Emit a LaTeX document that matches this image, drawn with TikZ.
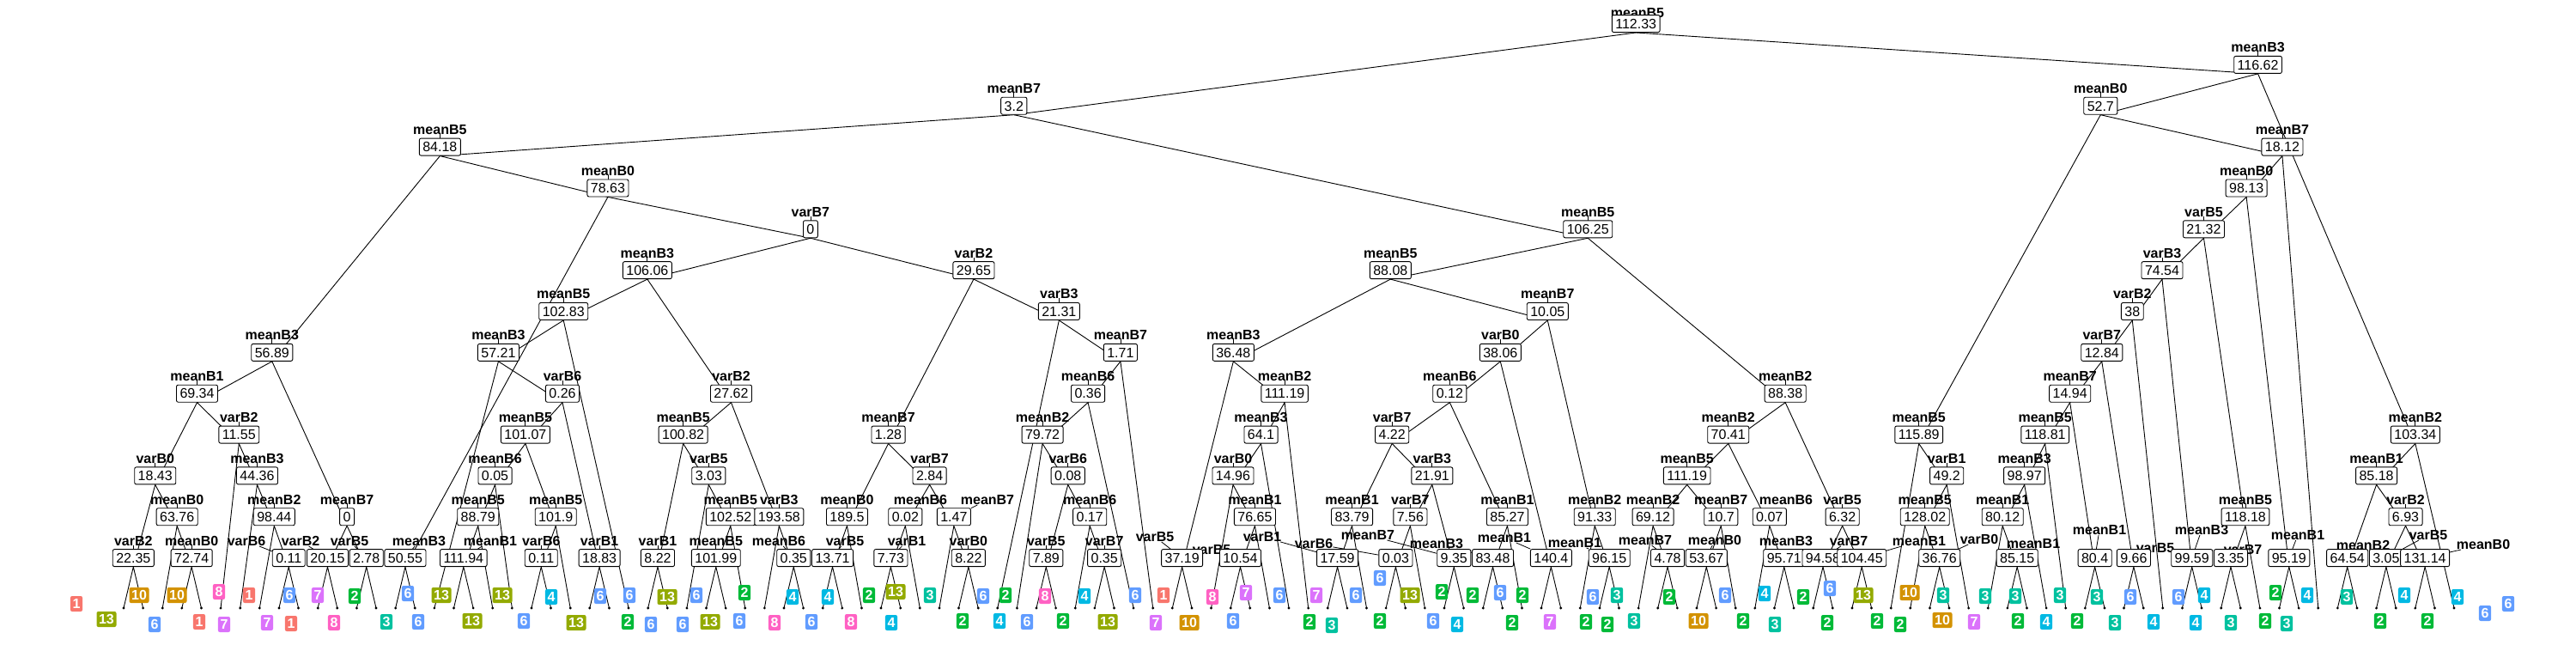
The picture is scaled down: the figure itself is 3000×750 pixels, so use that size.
\documentclass[tikz,border=0pt]{standalone}
\usepackage{fontspec}
\setmainfont{Liberation Sans}
\usetikzlibrary{calc}
\definecolor{col1}{HTML}{F8766D}
\definecolor{col10}{HTML}{D39200}
\definecolor{col13}{HTML}{93AA00}
\definecolor{col2}{HTML}{00BA38}
\definecolor{col3}{HTML}{00C19F}
\definecolor{col4}{HTML}{00B9E3}
\definecolor{col6}{HTML}{619CFF}
\definecolor{col7}{HTML}{DB72FB}
\definecolor{col8}{HTML}{FF61C3}
\pgfdeclarelayer{labels}
\pgfdeclarelayer{edges}
\pgfdeclarelayer{top}
\pgfsetlayers{labels,edges,main,top}
\tikzset{
  edge/.style={line width=0.9pt, black},
  tick/.style={line width=0.8pt, black},
  vbox/.style={draw, line width=0.9pt, fill=white, rounded corners=2pt,
    font=\fontsize{16}{16}\selectfont, inner xsep=4pt, inner ysep=4.25pt,
    text height=11.5pt, text depth=0pt},
  vname/.style={font=\fontsize{16}{16}\selectfont\bfseries, inner sep=0pt,
    text height=11.5pt, text depth=0pt},
  leafl/.style={rounded corners=2pt, text=white,
    font=\fontsize{16}{16}\selectfont\bfseries, inner xsep=2.6pt, inner ysep=3.25pt,
    text height=11.5pt, text depth=0pt},
  dot/.style={fill=black}
}
% [label centre]{id}{child A}{child B}{level}{variable}{value}
\NewDocumentCommand\tn{o m m m m m m}{%
  \path let \p1=(#3), \p2=(#4) in coordinate (#2) at ({0.5*(\x1+\x2)},{38+47.85*#5});
  \begin{pgfonlayer}{edges}\draw[edge] (#3) -- (#2) -- (#4);\end{pgfonlayer}
  \node[vbox, anchor=south] (#2-bx) at (#2) {#7};
  \begin{pgfonlayer}{labels}
  \IfNoValueTF{#1}{%
    \draw[tick] ([yshift=20pt]#2) -- ([yshift=25.5pt]#2);
    \node[vname, anchor=base] (#2-lb) at ([yshift=25pt]#2) {#6};
  }{%
    \node[vname, anchor=center] (#2-lb) at (#1) {#6};
  }
  \end{pgfonlayer}
}
\newcommand\lead[1]{\begin{pgfonlayer}{labels}\draw[tick] (#1-lb) -- (#1-bx);\end{pgfonlayer}}
\begin{document}
\begin{tikzpicture}[x=1pt,y=-1pt]
\useasboundingbox (0,0) rectangle (3000,750);
\foreach \i in {0,...,120} {\coordinate (l\i) at ({144+22.617*\i},708);}
% level 13
\tn{a22}{l0}{l1}{13}{varB2}{22.35}
\tn{a72}{l3}{l4}{13}{meanB0}{72.74}
\tn[287,630]{a011}{l8}{l9}{13}{varB6}{0.11}\lead{a011}
\tn[350,630]{a2015}{l10}{l11}{13}{varB2}{20.15}\lead{a2015}
\tn[407,630]{a278}{l12}{l13}{13}{varB5}{2.78}\lead{a278}
\tn[488,630]{a5055}{l14}{l15}{13}{meanB3}{50.55}\lead{a5055}
\tn[571,630]{a11194}{l17}{l18}{13}{meanB1}{111.94}\lead{a11194}
\tn{a011b}{l21}{l22}{13}{varB6}{0.11}
\tn{a1883}{l24}{l25}{13}{varB1}{18.83}
\tn{a822}{l27}{l28}{13}{varB1}{8.22}
\tn{a10199}{l30}{l31}{13}{meanB5}{101.99}
\tn[907,630]{a035}{l34}{l35}{13}{meanB6}{0.35}\lead{a035}
\tn[984,630]{a1371}{l36}{l37}{13}{varB5}{13.71}\lead{a1371}
\tn[1056,630]{a773}{l39}{l40}{13}{varB1}{7.73}\lead{a773}
\tn{a822b}{l43}{l44}{13}{varB0}{8.22}
\tn{a789}{l47}{l48}{13}{varB5}{7.89}
\tn{a035b}{l50}{l51}{13}{varB7}{0.35}
\tn[1345,625]{a3719}{l54}{l55}{13}{varB5}{37.19}\lead{a3719}
\tn[1411,640]{a1054}{l57}{l58}{13}{varB5}{10.54}
\tn[1470,625]{a1759}{l62}{l63}{13}{varB1}{17.59}\lead{a1759}
\tn[1530,633]{a003}{l65}{l66}{13}{varB6}{0.03}\lead{a003}
\tn[1593,623]{a935}{l68}{l69}{13}{meanB7}{9.35}\lead{a935}
\tn[1673,633]{a8348}{l70}{l71}{13}{meanB3}{83.48}\lead{a8348}
\tn[1752,626]{a1404}{l73}{l74}{13}{meanB1}{140.4}\lead{a1404}
\tn[1834,632]{a9615}{l76}{l77}{13}{meanB1}{96.15}\lead{a9615}
\tn[1916,629]{a478}{l79}{l80}{13}{meanB7}{4.78}\lead{a478}
\tn[1997,629]{a5367}{l81}{l82}{13}{meanB0}{53.67}\lead{a5367}
\tn[2080,630]{a9571}{l85}{l86}{13}{meanB3}{95.71}
\tn[2153,630]{a9458}{l87}{l88}{13}{varB7}{94.58}\lead{a9458}
\tn[2235,630]{a10445}{l89}{l90}{13}{meanB1}{104.45}\lead{a10445}
\tn[2305,628]{a3676}{l93}{l94}{13}{varB0}{36.76}\lead{a3676}
\tn[2368,633]{a8515}{l97}{l98}{13}{meanB1}{85.15}\lead{a8515}
\tn[2445,617]{a804}{l101}{l102}{13}{meanB1}{80.4}\lead{a804}
\tn[2510,638]{a966}{l103}{l104}{13}{varB5}{9.66}\lead{a966}
\tn[2564,617]{a9959}{l106}{l107}{13}{meanB3}{99.59}\lead{a9959}
\tn[2612,640]{a335}{l108}{l109}{13}{varB7}{3.35}
\tn[2676,623]{a9519}{l111}{l112}{13}{meanB1}{95.19}\lead{a9519}
\tn[2752,635]{a6454}{l114}{l115}{13}{meanB2}{64.54}
\tn[2828,623]{a305}{l116}{l117}{13}{varB5}{3.05}\lead{a305}
\tn[2892,634]{a13114}{l118}{l119}{13}{meanB0}{131.14}\lead{a13114}
% level 12
\tn{b6376}{l2}{a72}{12}{meanB0}{63.76}
\tn{b9844}{l7}{a011}{12}{meanB2}{98.44}
\tn{b0}{a2015}{a278}{12}{meanB7}{0}
\tn{b8879}{a11194}{l19}{12}{meanB5}{88.79}
\tn{b1019}{a011b}{l23}{12}{meanB5}{101.9}
\tn{b10252}{a10199}{l32}{12}{meanB5}{102.52}
\tn{b19358}{l33}{a035}{12}{varB3}{193.58}
\tn{b1895}{a1371}{l38}{12}{meanB0}{189.5}
\tn[1072,582]{b002}{a773}{l41}{12}{meanB6}{0.02}
\tn[1150,582]{b147}{l42}{a822b}{12}{meanB7}{1.47}\lead{b147}
\tn{b017}{l49}{a035b}{12}{meanB6}{0.17}
\tn{b7665}{a1054}{l59}{12}{meanB1}{76.65}
\tn{b8379}{a1759}{l64}{12}{meanB1}{83.79}
\tn{b756}{a003}{l67}{12}{varB7}{7.56}
\tn{b8527}{a8348}{l72}{12}{meanB1}{85.27}
\tn{b9133}{l75}{a9615}{12}{meanB2}{91.33}
\tn{b6912}{l78}{a478}{12}{meanB2}{69.12}
\tn{b107}{a5367}{l83}{12}{meanB7}{10.7}
\tn[2080,582]{b007}{l84}{a9571}{12}{meanB6}{0.07}
\tn{b632}{a9458}{a10445}{12}{varB5}{6.32}
\tn{b12802}{l92}{a3676}{12}{meanB5}{128.02}
\tn{b8012}{l96}{a8515}{12}{meanB1}{80.12}
\tn{b11818}{a335}{l110}{12}{meanB5}{118.18}
\tn{b693}{a305}{a13114}{12}{varB2}{6.93}
% level 11
\tn{c1843}{a22}{b6376}{11}{varB0}{18.43}
\tn{c4436}{l6}{b9844}{11}{meanB3}{44.36}
\tn{c005}{b8879}{l20}{11}{meanB6}{0.05}
\tn{c303}{l29}{b10252}{11}{varB5}{3.03}
\tn{c284}{b002}{b147}{11}{varB7}{2.84}
\tn{c008}{a789}{b017}{11}{varB6}{0.08}
\tn{c1496}{l56}{b7665}{11}{varB0}{14.96}
\tn{c2191}{b756}{a935}{11}{varB3}{21.91}
\tn{c11119}{b6912}{b107}{11}{meanB5}{111.19}
\tn{c492}{b12802}{l95}{11}{varB1}{49.2}
\tn{c9897}{b8012}{l99}{11}{meanB3}{98.97}
\tn{c8518}{a6454}{b693}{11}{meanB1}{85.18}
% level 10
\tn{d1155}{l5}{c4436}{10}{varB2}{11.55}
\tn{d10107}{c005}{b1019}{10}{meanB5}{101.07}
\tn{d10082}{a822}{c303}{10}{meanB5}{100.82}
\tn{d128}{b1895}{c284}{10}{meanB7}{1.28}
\tn{d7972}{l46}{c008}{10}{meanB2}{79.72}
\tn{d641}{c1496}{l60}{10}{meanB3}{64.1}
\tn{d422}{b8379}{c2191}{10}{varB7}{4.22}
\tn{d7041}{c11119}{b007}{10}{meanB2}{70.41}
\tn{d11589}{l91}{c492}{10}{meanB5}{115.89}
\tn{d11881}{c9897}{l100}{10}{meanB5}{118.81}
\tn{d10334}{c8518}{l120}{10}{meanB2}{103.34}
% level 9
\tn{e6934}{c1843}{d1155}{9}{meanB1}{69.34}
\tn{e026}{d10107}{a1883}{9}{varB6}{0.26}
\tn{e2762}{d10082}{b19358}{9}{varB2}{27.62}
\tn{e036}{d7972}{l52}{9}{meanB6}{0.36}
\tn{e11119}{d641}{l61}{9}{meanB2}{111.19}
\tn{e012}{d422}{b8527}{9}{meanB6}{0.12}
\tn{e8838}{d7041}{b632}{9}{meanB2}{88.38}
\tn{e1494}{d11881}{a804}{9}{meanB7}{14.94}
% level 8
\tn{f5689}{e6934}{b0}{8}{meanB3}{56.89}
\tn{f5721}{l16}{e026}{8}{meanB3}{57.21}
\tn{f171}{e036}{l53}{8}{meanB7}{1.71}
\tn{f3648}{a3719}{e11119}{8}{meanB3}{36.48}
\tn{f3806}{e012}{a1404}{8}{varB0}{38.06}
\tn{f1284}{e1494}{a966}{8}{varB7}{12.84}
% level 7
\tn{g10283}{f5721}{l26}{7}{meanB5}{102.83}
\tn{g2131}{l45}{f171}{7}{varB3}{21.31}
\tn{g1005}{f3806}{b9133}{7}{meanB7}{10.05}
\tn{g38}{f1284}{l105}{7}{varB2}{38}
% level 6
\tn{h10606}{g10283}{e2762}{6}{meanB3}{106.06}
\tn{h2965}{d128}{g2131}{6}{varB2}{29.65}
\tn{h8808}{f3648}{g1005}{6}{meanB5}{88.08}
\tn{h7454}{g38}{a9959}{6}{varB3}{74.54}
% level 5
\tn{i0}{h10606}{h2965}{5}{varB7}{0}
\tn{i10625}{h8808}{e8838}{5}{meanB5}{106.25}
\tn{i2132}{h7454}{b11818}{5}{varB5}{21.32}
% level 4
\tn{j7863}{a5055}{i0}{4}{meanB0}{78.63}
\tn{j9813}{i2132}{a9519}{4}{meanB0}{98.13}
% level 3
\tn{k8418}{f5689}{j7863}{3}{meanB5}{84.18}
\tn{k1812}{j9813}{l113}{3}{meanB7}{18.12}
% level 2
\tn{m32}{k8418}{i10625}{2}{meanB7}{3.2}
\tn{m527}{d11589}{k1812}{2}{meanB0}{52.7}
% level 1
\tn{n11662}{m527}{d10334}{1}{meanB3}{116.62}
% level 0
\tn[1907,15]{r}{m32}{n11662}{0}{meanB5}{112.33}
% leaf dots
\foreach \i in {0,...,120} {\fill[dot] (l\i) circle (1.6pt);}
% leaf class labels
\begin{pgfonlayer}{top}
\foreach \x/\y/\c [count=\k] in {
89/703/1,124/721/13,162/693/10,180/727/6,206/693/10,232/724/1,255/689/8,261/727/7,290/693/1,
311/725/7,337/693/6,339/726/1,370/693/7,389/725/8,413/694/2,450/724/3,475/691/6,487/724/6,514/693/13,550/723/13,585/693/13,
610/723/6,642/695/4,671/725/13,699/694/6,733/693/6,731/724/2,758/727/6,777/695/13,811/693/6,795/727/6,827/724/13,867/690/2,861/723/6,902/725/8,
923/695/4,945/724/6,964/695/4,991/724/8,1012/693/2,1043/689/13,1038/725/4,1083/693/3,1121/723/2,1145/694/6,1171/693/2,1164/723/4,1196/724/6,
1217/694/8,1238/723/2,1263/694/4,1290/724/13,1322/693/6,1355/693/1,1346/725/7,1385/725/10,1412/695/8,1451/690/7,1436/723/6,1490/693/6,
1533/693/7,1579/693/6,1607/673/6,1642/693/13,1679/689/2,1715/693/2,1747/690/6,1773/693/2,1525/724/2,1551/728/3,1607/723/2,1669/723/6,1697/727/4,1761/725/2,1805/724/7,
1855/695/6,1883/693/3,1847/724/2,1872/727/2,1903/723/3,1944/695/2,1978/723/10,2009/693/6,2030/723/2,2055/691/4,2067/727/3,2100/695/2,
2131/685/6,2170/693/13,2224/690/10,2263/693/3,2312/694/3,2347/694/3,2399/693/3,2128/725/2,2186/723/2,2213/727/2,2262/722/10,2299/724/7,2350/723/2,2383/724/4,
2442/695/3,2481/695/6,2537/695/6,2567/693/4,2650/690/2,2687/693/4,2419/723/2,2463/725/3,2508/724/4,2557/725/4,2598/725/3,2638/723/2,2663/726/3,
2733/695/3,2800/693/4,2862/695/4,2772/723/2,2827/723/2,2894/714/6,2921/703/6}
{\node[leafl, fill=col\c] (q\k) at (\x,\y) {\c};}
\end{pgfonlayer}
\end{tikzpicture}
\end{document}
